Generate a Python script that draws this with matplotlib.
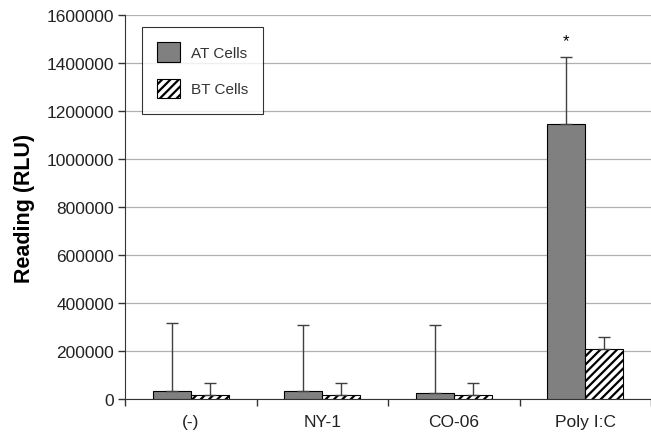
import numpy as np
import matplotlib
matplotlib.use('Agg')
import matplotlib.pyplot as plt

plt.rcParams['font.family'] = ['Liberation Sans', 'DejaVu Sans']
plt.rcParams['hatch.linewidth'] = 1.6

categories = ['(-)', 'NY-1', 'CO-06', 'Poly I:C']
at_cells = [33000, 32000, 26000, 1146000]
at_err = [285000, 278000, 284000, 278000]
bt_cells = [18000, 18000, 17000, 208000]
bt_err = [50000, 50000, 51000, 50000]
y_ticks = [0, 200000, 400000, 600000, 800000, 1000000, 1200000, 1400000, 1600000]


def main():
    fig = plt.figure(figsize=(6.51, 4.35), dpi=100)
    ax = fig.add_axes([125 / 651, 35 / 435, 526 / 651, 384 / 435])

    x = np.arange(len(categories))
    w = 0.29

    # barras AT y BT con error solo hacia arriba
    ax.bar(x - w / 2, at_cells, w, color='#808080', edgecolor='black', linewidth=0.8,
           yerr=[np.zeros(len(at_err)), at_err], capsize=4,
           error_kw=dict(ecolor='#404040', elinewidth=1.0, capthick=1.0),
           label='AT Cells', zorder=3)
    ax.bar(x + w / 2, bt_cells, w, color='white', edgecolor='black', linewidth=0.8,
           hatch='////', yerr=[np.zeros(len(bt_err)), bt_err], capsize=4,
           error_kw=dict(ecolor='#404040', elinewidth=1.0, capthick=1.0),
           label='BT Cells', zorder=3)

    # asterisco sobre Poly I:C
    ax.text(x[3] - w / 2, at_cells[3] + at_err[3] + 70000, '*', ha='center', va='center',
            fontsize=12, color='black')

    ax.set_ylim(0, 1600000)
    ax.set_xlim(-0.5, len(categories) - 0.5)
    ax.set_yticks(y_ticks)
    ax.set_yticklabels([str(v) for v in y_ticks], fontsize=12.5, color='#222222')
    ax.yaxis.grid(True, color='#b0b0b0', linewidth=0.9, zorder=0)
    ax.set_axisbelow(True)

    # ticks del eje x en los limites de los grupos
    ax.set_xticks(np.arange(len(categories) + 1) - 0.5)
    ax.set_xticklabels([])
    ax.set_xticks(x, minor=True)
    ax.set_xticklabels(categories, minor=True, fontsize=12.5, color='#222222')
    ax.tick_params(axis='x', which='minor', length=0, pad=11)
    ax.tick_params(axis='x', which='major', direction='out', length=5, width=1, color='#333333')
    ax.tick_params(axis='y', direction='out', length=5, width=1, color='#333333', pad=3)

    ax.spines['top'].set_visible(False)
    ax.spines['right'].set_visible(False)
    ax.spines['left'].set_color('#333333')
    ax.spines['bottom'].set_color('#333333')

    ax.set_ylabel('Reading (RLU)', fontsize=15.5, fontweight='bold', labelpad=8)

    leg = ax.legend(loc='upper left', bbox_to_anchor=(0.032, 0.969), borderaxespad=0,
                    fontsize=11, frameon=True, fancybox=False, edgecolor='black',
                    handlelength=1.5, handleheight=1.6, labelspacing=1.1, borderpad=1.0,
                    handletextpad=0.7)
    leg.get_frame().set_linewidth(0.8)
    for t in leg.get_texts():
        t.set_color('#333333')

    fig.savefig('out.png', dpi=100)


if __name__ == "__main__":
    main()
